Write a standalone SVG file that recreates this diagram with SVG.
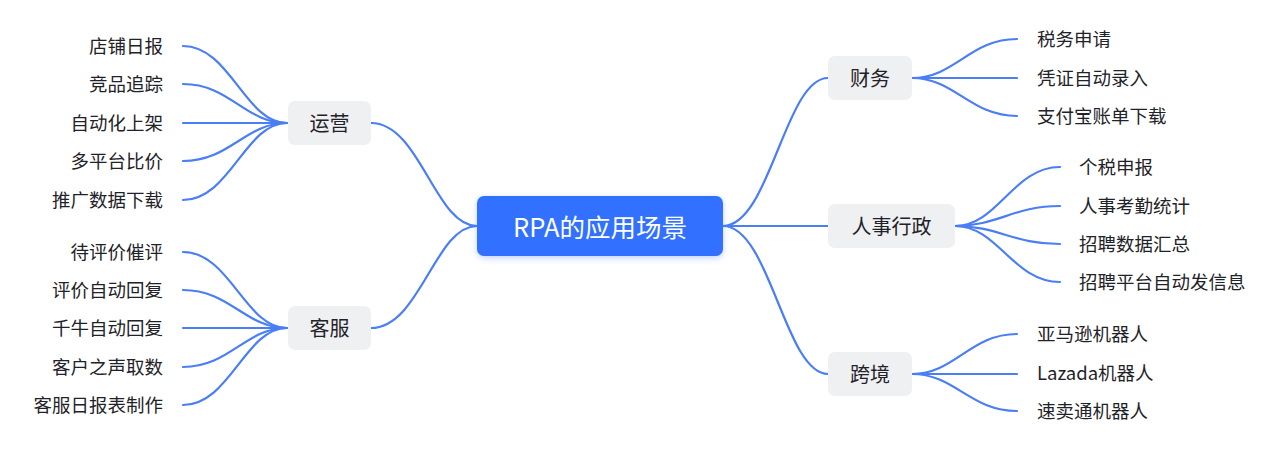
<svg xmlns="http://www.w3.org/2000/svg" width="1280" height="452" viewBox="0 0 1280 452">
<defs>
<style>
.l{fill:none;stroke:#4a7ef5;stroke-width:2.2;stroke-linecap:round}
.t{font-family:"Noto Sans CJK SC","Noto Sans",sans-serif;fill:#1f2329;dominant-baseline:central}
.leaf{font-size:18.5px}
.cat{font-size:20px;text-anchor:middle}
.box{fill:#eff0f2}
.r{text-anchor:end}
</style>
<filter id="sh" x="-20%" y="-40%" width="140%" height="180%">
<feDropShadow dx="0" dy="2" stdDeviation="3" flood-color="#3370ff" flood-opacity="0.3"/>
</filter>
</defs>
<rect width="1280" height="452" fill="#ffffff"/>
<g id="connectors">
<path class="l" d="M371,123 C420,123 435,226 477,226"/>
<path class="l" d="M371,328 C420,328 435,226 477,226"/>
<path class="l" d="M723,226 C770,226 785,78 828,78"/>
<path class="l" d="M723,226 L828,226"/>
<path class="l" d="M723,226 C770,226 785,374 828,374"/>
<path class="l" d="M183,46 C230,46 245,123 287,123"/>
<path class="l" d="M183,84 C230,84 245,123 287,123"/>
<path class="l" d="M183,123 L287,123"/>
<path class="l" d="M183,161 C230,161 245,123 287,123"/>
<path class="l" d="M183,200 C230,200 245,123 287,123"/>
<path class="l" d="M183,252 C230,252 245,328 287,328"/>
<path class="l" d="M183,290 C230,290 245,328 287,328"/>
<path class="l" d="M183,328 L287,328"/>
<path class="l" d="M183,367 C230,367 245,328 287,328"/>
<path class="l" d="M183,405 C230,405 245,328 287,328"/>
<path class="l" d="M912,78 C955,78 970,39 1017,39"/>
<path class="l" d="M912,78 L1017,78"/>
<path class="l" d="M912,78 C955,78 970,116 1017,116"/>
<path class="l" d="M955,226 C998,226 1013,167 1060,167"/>
<path class="l" d="M955,226 C998,226 1013,206 1060,206"/>
<path class="l" d="M955,226 C998,226 1013,244 1060,244"/>
<path class="l" d="M955,226 C998,226 1013,282 1060,282"/>
<path class="l" d="M912,374 C955,374 970,334 1017,334"/>
<path class="l" d="M912,374 L1017,374"/>
<path class="l" d="M912,374 C955,374 970,411 1017,411"/>
</g>
<g id="root">
<rect x="477" y="196" width="246" height="60" rx="7" fill="#3370ff" filter="url(#sh)"/>
<text x="600" y="225" class="t" font-size="25.5" text-anchor="middle" style="fill:#ffffff">RPA的应用场景</text>
</g>
<g id="yunying">
<rect class="box" x="288" y="101" width="83" height="44" rx="7"/>
<text class="t cat" x="329.5" y="122">运营</text>
</g>
<g id="kefu">
<rect class="box" x="288" y="306" width="83" height="44" rx="7"/>
<text class="t cat" x="329.5" y="327">客服</text>
</g>
<g id="caiwu">
<rect class="box" x="828" y="56" width="84" height="44" rx="7"/>
<text class="t cat" x="870" y="77">财务</text>
</g>
<g id="renshi">
<rect class="box" x="828" y="204" width="127" height="44" rx="7"/>
<text class="t cat" x="891.5" y="225">人事行政</text>
</g>
<g id="kuajing">
<rect class="box" x="828" y="352" width="84" height="44" rx="7"/>
<text class="t cat" x="870" y="373">跨境</text>
</g>
<g id="leaves-yunying">
<text class="t leaf r" x="163" y="45">店铺日报</text>
<text class="t leaf r" x="163" y="83">竞品追踪</text>
<text class="t leaf r" x="163" y="122">自动化上架</text>
<text class="t leaf r" x="163" y="160">多平台比价</text>
<text class="t leaf r" x="163" y="199">推广数据下载</text>
</g>
<g id="leaves-kefu">
<text class="t leaf r" x="163" y="251">待评价催评</text>
<text class="t leaf r" x="163" y="289">评价自动回复</text>
<text class="t leaf r" x="163" y="327">千牛自动回复</text>
<text class="t leaf r" x="163" y="366">客户之声取数</text>
<text class="t leaf r" x="163" y="404">客服日报表制作</text>
</g>
<g id="leaves-caiwu">
<text class="t leaf" x="1037" y="38">税务申请</text>
<text class="t leaf" x="1037" y="77">凭证自动录入</text>
<text class="t leaf" x="1037" y="115">支付宝账单下载</text>
</g>
<g id="leaves-renshi">
<text class="t leaf" x="1079" y="166">个税申报</text>
<text class="t leaf" x="1079" y="205">人事考勤统计</text>
<text class="t leaf" x="1079" y="243">招聘数据汇总</text>
<text class="t leaf" x="1079" y="281">招聘平台自动发信息</text>
</g>
<g id="leaves-kuajing">
<text class="t leaf" x="1037" y="333">亚马逊机器人</text>
<text class="t leaf" x="1037" y="372">Lazada机器人</text>
<text class="t leaf" x="1037" y="410">速卖通机器人</text>
</g>
</svg>
